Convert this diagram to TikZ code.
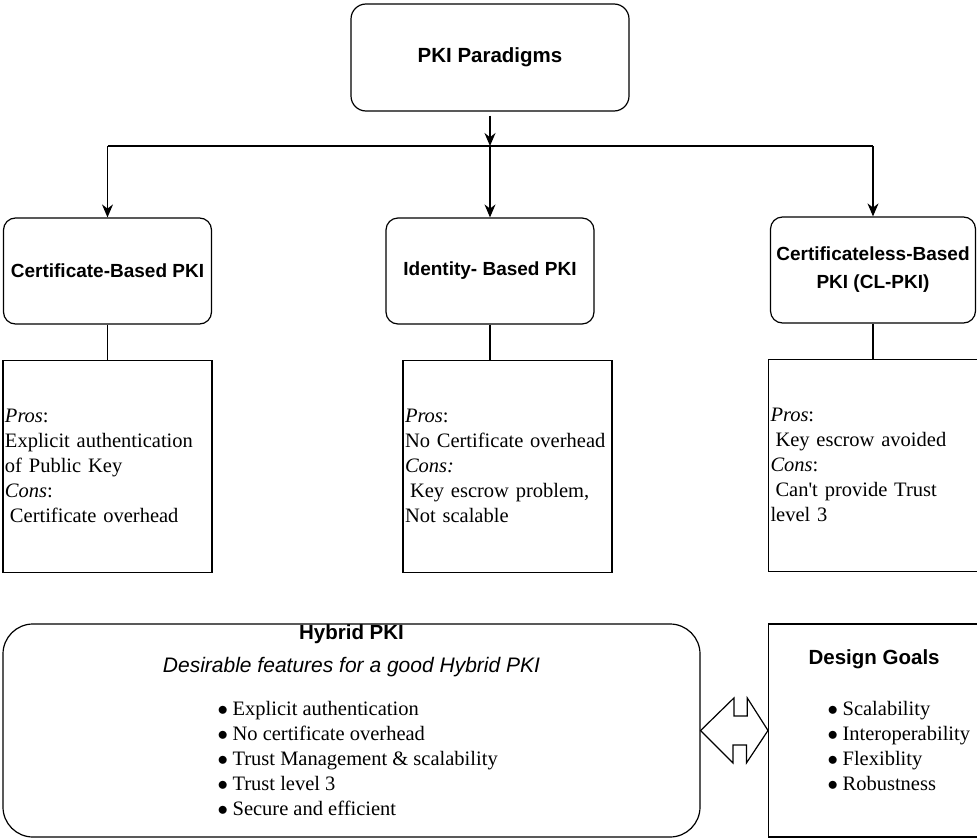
\documentclass[tikz,border=0pt]{standalone}
\usepackage{fontspec}
\setmainfont{Liberation Serif}
\setsansfont{Liberation Sans}
\usetikzlibrary{positioning,arrows.meta}

\tikzset{
    paradigm/.style={draw, rounded corners=12pt, minimum width=208pt, minimum height=106pt, align=center, font=\sffamily\bfseries\fontsize{19}{28}\selectfont},
    proscons/.style={draw, minimum width=209pt, minimum height=212pt, text width=205pt, inner xsep=2pt, align=left, font=\fontsize{20.5}{25}\selectfont},
    featurelist/.style={inner sep=0pt, anchor=west, align=left, font=\fontsize{20.5}{25}\selectfont},
    heading/.style={font=\sffamily\bfseries\fontsize{20.5}{25}\selectfont},
    branch/.style={-{Stealth[length=13pt,width=11pt]}},
}
\newcommand{\bul}{\makebox[15pt][l]{$\bullet$}}

\begin{document}
\begin{tikzpicture}[x=1pt, y=-1pt, line width=1.2pt]
    \useasboundingbox (0,0) rectangle (977,838);
    \node[paradigm, heading, minimum width=278pt, minimum height=107pt, rounded corners=15pt] (pkiTitle) at (490,57.5) {PKI Paradigms};
    \node[paradigm] (certBased) at (107.5,271) {Certificate-Based PKI};
    \node[paradigm] (idBased) at (490,271) {Identity- Based PKI};
    \node[paradigm, minimum width=205pt] (clBased) at (873,270) {Certificateless-Based\\PKI (CL-PKI)};
    \coordinate (fork) at (490,146);
    \draw[branch, shorten <=4pt] (pkiTitle) -- (fork);
    \draw (certBased.north |- fork) -- (clBased.north |- fork);
    \draw[branch] (fork) -- (idBased);
    \draw[branch] (certBased.north |- fork) -- (certBased);
    \draw[branch] (clBased.north |- fork) -- (clBased);

    \node[proscons, below=35pt of certBased] (certPros) {\textit{Pros}:\\Explicit authentication\\of Public Key\\\textit{Cons}:\\\hspace*{5pt}Certificate overhead};
    \node[proscons, below=35pt of idBased, xshift=17.5pt] (idPros) {\textit{Pros}:\\No Certificate overhead\\\textit{Cons:}\\\hspace*{5pt}Key escrow problem,\\Not scalable};
    \node[proscons, below=35pt of clBased] (clPros) {\textit{Pros}:\\\hspace*{5pt}Key escrow avoided\\\textit{Cons}:\\\hspace*{5pt}Can\textquotesingle t provide Trust\\level 3};
    \draw (certBased) -- (certPros);
    \draw (idBased.south) -- (idBased.south |- idPros.north);
    \draw (clBased) -- (clPros);

    \node[draw, rounded corners=30pt, minimum width=697pt, minimum height=213pt] (hybridBox) at (351.5,730.5) {};
    \node[heading] (hybridTitle) at ([yshift=-11pt]hybridBox.north) {Hybrid PKI};
    \node[font=\sffamily\itshape\fontsize{21}{25}\selectfont] (hybridSub) at ([yshift=-44pt]hybridBox.north) {Desirable features for a good Hybrid PKI};
    \node[featurelist] (hybridList) at (217,758) {\bul Explicit authentication\\\bul No certificate overhead\\\bul Trust Management \& scalability\\\bul Trust level 3\\\bul Secure and efficient};

    \node[draw, minimum width=222pt, minimum height=213pt, anchor=west] (goalsBox) at (768,730.5) {};
    \node[heading, anchor=west, inner sep=0pt] (goalsTitle) at (808,659) {Design Goals};
    \node[featurelist] (goalsList) at (827,745.5) {\bul Scalability\\\bul Interoperability\\\bul Flexiblity\\\bul Robustness};

    \draw (hybridBox.east) -- ++(33.3,-32.5) -- ++(0,18) -- ++(13.4,0) -- ++(0,-18) -- (goalsBox.west)
        -- ++(-21.6,32.5) -- ++(0,-18) -- ++(-13.4,0) -- ++(0,18) -- cycle;
\end{tikzpicture}
\end{document}
